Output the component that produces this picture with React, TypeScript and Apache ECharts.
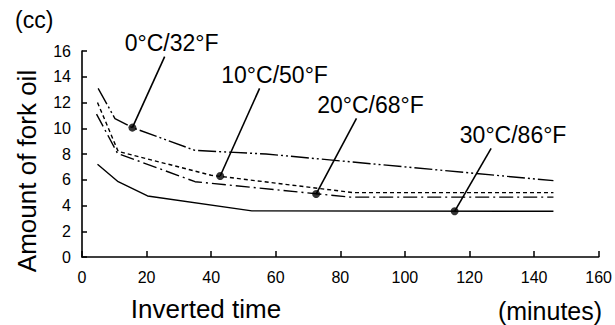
import React, { useEffect, useRef } from "react";
import * as echarts from "echarts";

// Series names (temperatures)
const seriesNames = ["0°C/32°F", "10°C/50°F", "20°C/68°F", "30°C/86°F"];

// Inverted time (minutes) and amount of fork oil (cc) for each temperature
const time0C = [5, 10.2, 15.6, 35, 57, 146];
const oil0C = [13.1, 10.75, 10.05, 8.28, 8.0, 5.93];

const time10C = [4.8, 11.2, 40, 84, 146];
const oil10C = [12.0, 8.2, 6.35, 5.0, 5.0];

const time20C = [4.5, 11, 35, 83, 146];
const oil20C = [11.1, 8.05, 5.85, 4.65, 4.65];

const time30C = [4.8, 11.2, 20.3, 52.6, 146];
const oil30C = [7.2, 5.85, 4.74, 3.58, 3.55];

// Annotation markers on each curve
const markerTime = [15.6, 42.8, 72.5, 115.4];
const markerOil = [10.05, 6.29, 4.89, 3.55];

// Leader-line ends (where the labels sit), in data units
const labelTime = [25.6, 55.0, 85.0, 126.7];
const labelOil = [15.56, 13.1, 10.77, 8.44];

// Axis ticks
const xTicks = { min: 0, max: 160, interval: 20 };
const yTicks = { min: 0, max: 16, interval: 2 };

const FONT = "Liberation Sans, Arial, Helvetica, sans-serif";

export default function App() {
  const ref = useRef<HTMLDivElement>(null);

  useEffect(() => {
    if (!ref.current) return;
    const chart = echarts.init(ref.current, undefined, { renderer: "svg" });

    const lineSets = [
      { t: time0C, v: oil0C, dash: [18, 3, 2, 3, 2, 3] },
      { t: time10C, v: oil10C, dash: [4, 3] },
      { t: time20C, v: oil20C, dash: [14, 4, 2, 4] },
      { t: time30C, v: oil30C, dash: "solid" },
    ];

    const labelDx = [7, 15, 14, 22];

    const curveSeries = lineSets.map((s, i) => ({
      type: "line",
      name: seriesNames[i],
      data: s.t.map((t, j) => [t, s.v[j]]),
      symbol: "none",
      lineStyle: { color: "#000", width: 1.4, type: s.dash as any },
      z: 2,
    }));

    const leaderSeries = seriesNames.map((name, i) => ({
      type: "line",
      data: [
        { value: [markerTime[i], markerOil[i]], symbolSize: 0 },
        {
          value: [labelTime[i], labelOil[i]],
          symbolSize: 0,
          label: {
            show: true,
            position: "top",
            distance: 2,
            offset: [labelDx[i], 0],
            formatter: name,
            color: "#000",
            fontSize: 23,
            fontFamily: FONT,
          },
        },
      ],
      showSymbol: true,
      symbol: "circle",
      lineStyle: { color: "#000", width: 1.6, type: "solid" },
      z: 3,
    }));

    const markerSeries = {
      type: "scatter",
      data: markerTime.map((t, i) => [t, markerOil[i]]),
      symbol: "circle",
      symbolSize: 8,
      itemStyle: { color: "#000" },
      z: 4,
    };

    chart.setOption({
      animation: false,
      backgroundColor: "#fff",
      grid: { left: 82, right: 15, top: 51, bottom: 68 },
      xAxis: {
        type: "value",
        min: xTicks.min,
        max: xTicks.max,
        interval: xTicks.interval,
        axisLine: { lineStyle: { color: "#000", width: 1.6 } },
        axisTick: { show: true, inside: true, length: 6, lineStyle: { color: "#000", width: 1.5 } },
        axisLabel: { color: "#000", fontSize: 16, fontFamily: FONT, margin: 12 },
        splitLine: { show: false },
      },
      yAxis: {
        type: "value",
        min: yTicks.min,
        max: yTicks.max,
        interval: yTicks.interval,
        axisLine: { show: true, lineStyle: { color: "#000", width: 1.6 } },
        axisTick: { show: true, inside: true, length: 5, lineStyle: { color: "#000", width: 1.5 } },
        axisLabel: { color: "#000", fontSize: 16, fontFamily: FONT, margin: 11 },
        splitLine: { show: false },
      },
      graphic: [
        {
          type: "text",
          left: 15,
          top: 8,
          style: { text: "(cc)", fill: "#000", fontSize: 23, fontFamily: FONT },
        },
        {
          type: "text",
          x: 27,
          y: 171,
          rotation: Math.PI / 2,
          style: {
            text: "Amount of fork oil",
            fill: "#000",
            fontSize: 26,
            fontFamily: FONT,
            align: "center",
            verticalAlign: "middle",
          },
        },
        {
          type: "text",
          x: 206,
          y: 309,
          style: {
            text: "Inverted time",
            fill: "#000",
            fontSize: 26,
            fontFamily: FONT,
            align: "center",
            verticalAlign: "middle",
          },
        },
        {
          type: "text",
          x: 550,
          y: 311,
          style: {
            text: "(minutes)",
            fill: "#000",
            fontSize: 25,
            fontFamily: FONT,
            align: "center",
            verticalAlign: "middle",
          },
        },
      ],
      series: [...curveSeries, ...leaderSeries, markerSeries],
    } as any);

    return () => chart.dispose();
  }, []);

  return (
    <div
      ref={ref}
      style={{ position: "absolute", left: 0, top: 0, width: 615, height: 325 }}
    />
  );
}
